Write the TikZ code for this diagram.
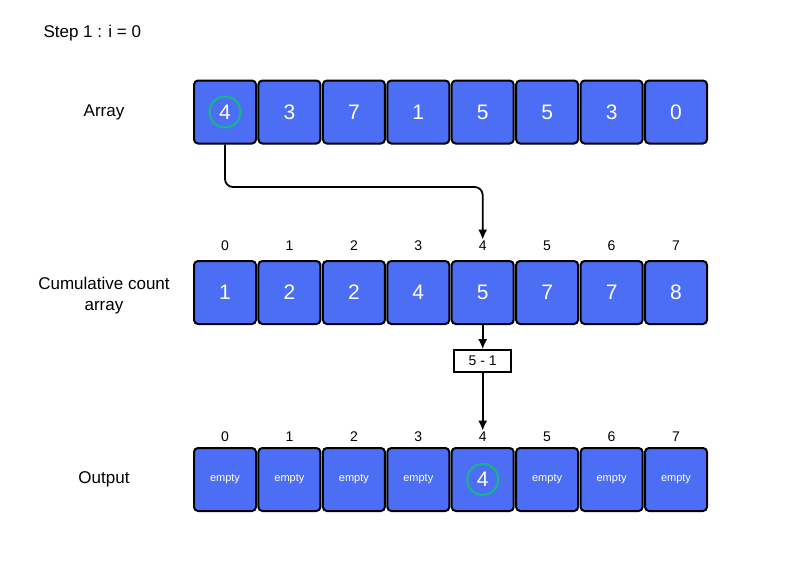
\documentclass[tikz,border=0pt]{standalone}
\usepackage{fontspec}
\setmainfont{Liberation Sans}
\usetikzlibrary{arrows.meta}
\definecolor{cellblue}{HTML}{4C6EF5}
\definecolor{ringgreen}{HTML}{12B886}
\tikzset{
    cell/.style={shape=rectangle,draw=black,line width=2pt,fill=cellblue,rounded corners=4pt,
        minimum width=62pt,minimum height=63pt,text=white,font=\fontsize{21}{23}\selectfont},
    emptycell/.style={cell,font=\fontsize{11}{13}\selectfont},
    idx/.style={font=\fontsize{14}{16}\selectfont},
    lbl/.style={font=\fontsize{17}{21}\selectfont,align=center},
    ring/.style={shape=circle,draw=ringgreen,line width=2pt,minimum size=31pt},
    link/.style={line width=1.8pt,-{Latex[length=10pt,width=9pt]}}
}
\begin{document}
\begin{tikzpicture}[x=1pt,y=-1pt]
            \useasboundingbox[fill=white] (0,0) rectangle (800,582);

            \node[lbl,anchor=west] (step) at (40,33) {Step 1 : i = 0};
            \node[lbl] (larr) at (104,112) {Array};
            \node[lbl] (lcum) at (104,296) {Cumulative count\\array};
            \node[lbl] (lout) at (104,479) {Output};

            %input array
            \node[cell] (a0) at (225,112) {4};
            \node[cell] (a1) at (289.4,112) {3};
            \node[cell] (a2) at (353.9,112) {7};
            \node[cell] (a3) at (418.3,112) {1};
            \node[cell] (a4) at (482.7,112) {5};
            \node[cell] (a5) at (547.1,112) {5};
            \node[cell] (a6) at (611.6,112) {3};
            \node[cell] (a7) at (676,112) {0};
            \node[ring] (r0) at (a0) {};

            %cumulative count array
            \node[cell] (c0) at (225,292.5) {1};
            \node[cell] (c1) at (289.4,292.5) {2};
            \node[cell] (c2) at (353.9,292.5) {2};
            \node[cell] (c3) at (418.3,292.5) {4};
            \node[cell] (c4) at (482.7,292.5) {5};
            \node[cell] (c5) at (547.1,292.5) {7};
            \node[cell] (c6) at (611.6,292.5) {7};
            \node[cell] (c7) at (676,292.5) {8};

            \node[idx] (ci0) at (225,246) {0};
            \node[idx] (ci1) at (289.4,246) {1};
            \node[idx] (ci2) at (353.9,246) {2};
            \node[idx] (ci3) at (418.3,246) {3};
            \node[idx] (ci4) at (482.7,246) {4};
            \node[idx] (ci5) at (547.1,246) {5};
            \node[idx] (ci6) at (611.6,246) {6};
            \node[idx] (ci7) at (676,246) {7};

            %output array
            \node[emptycell] (o0) at (225,479.5) {empty};
            \node[emptycell] (o1) at (289.4,479.5) {empty};
            \node[emptycell] (o2) at (353.9,479.5) {empty};
            \node[emptycell] (o3) at (418.3,479.5) {empty};
            \node[cell] (o4) at (482.7,479.5) {4};
            \node[emptycell] (o5) at (547.1,479.5) {empty};
            \node[emptycell] (o6) at (611.6,479.5) {empty};
            \node[emptycell] (o7) at (676,479.5) {empty};
            \node[ring] (r4) at (o4) {};

            \node[idx] (oi0) at (225,437) {0};
            \node[idx] (oi1) at (289.4,437) {1};
            \node[idx] (oi2) at (353.9,437) {2};
            \node[idx] (oi3) at (418.3,437) {3};
            \node[idx] (oi4) at (482.7,437) {4};
            \node[idx] (oi5) at (547.1,437) {5};
            \node[idx] (oi6) at (611.6,437) {6};
            \node[idx] (oi7) at (676,437) {7};

            \node[draw=black,line width=1.6pt,fill=white,minimum width=57pt,minimum height=22pt,
                idx] (calc) at (482.7,361) {5 - 1};

            %arrows
            \draw[link,rounded corners=8pt] (a0.south) -- (225,187) -- (482.7,187) -- ([yshift=-2pt]ci4.north);
            \draw[link] (c4.south) -- (calc.north);
            \draw[link] (calc.south) -- ([yshift=-2pt]oi4.north);

        \end{tikzpicture}
\end{document}
